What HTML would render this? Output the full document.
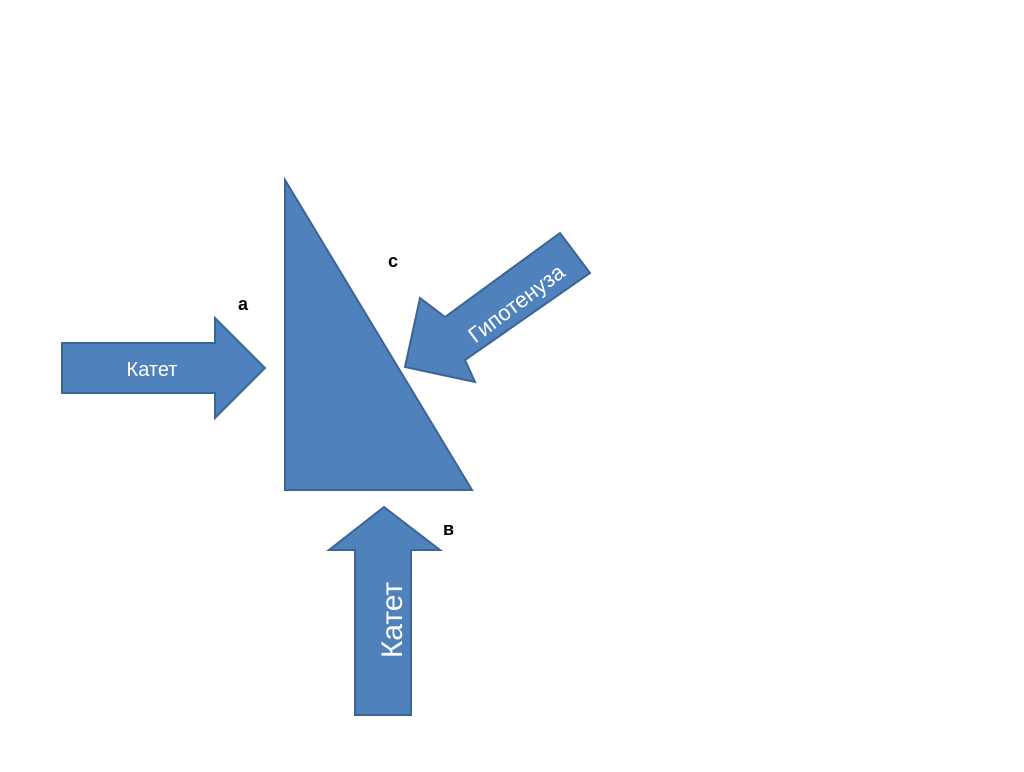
<!DOCTYPE html>
<html><head><meta charset="utf-8"><style>body{margin:0;background:#fff}</style></head>
<body>
<svg width="1024" height="767" xmlns="http://www.w3.org/2000/svg" font-family="Liberation Sans, DejaVu Sans, sans-serif">
<g fill="#4f81bd" stroke="#3a6595" stroke-width="2" stroke-linejoin="miter">
<polygon points="285,180 285,490 472,490"/>
<polygon points="62,343 215,343 215,318 265,368 215,418 215,393 62,393"/>
<polygon points="355,715 355,550 329,550 384,507 440,550 411,550 411,715"/>
<polygon points="405,367 420,298 445,317 560,233 590,273 465,360 475,382"/>
</g>
<g fill="#fff" font-size="20">
<text x="152" y="376" text-anchor="middle">Катет</text>
<text transform="translate(392,620) rotate(-90)" text-anchor="middle" font-size="30" dy="10">Катет</text>
<text transform="translate(516,303) rotate(-37)" text-anchor="middle" font-size="22" dy="8">Гипотенуза</text>
</g>
<g fill="#000" font-size="18" font-weight="bold">
<text x="238" y="310">а</text>
<text x="388" y="267">с</text>
<text x="443" y="535">в</text>
</g>
</svg>
</body></html>
